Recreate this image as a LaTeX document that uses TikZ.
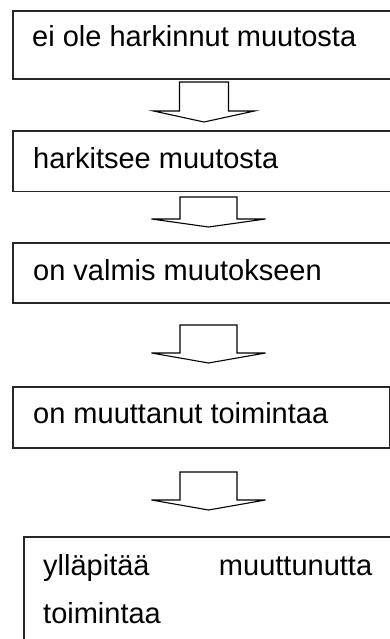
\documentclass[tikz,border=0pt]{standalone}
\usepackage{fontspec}
\setmainfont{Liberation Sans}
\begin{document}
\begin{tikzpicture}[x=1pt,y=-1pt,
  boxline/.style={draw=black!85, line width=1.6pt, inner sep=0pt, anchor=north west},
  txt/.style={inner sep=0pt, anchor=base west, font=\fontsize{29}{48}\selectfont},
  arrowline/.style={draw=black, line width=1.1pt, line join=miter}]
\useasboundingbox (0,0) rectangle (390,639);
\clip (0,0) rectangle (390,639);
\newcommand\bkarrow[6]{\draw[arrowline] (#1-#5,#2) -- (#1+#5,#2) -- (#1+#5,#3) -- (#1+#6,#3) -- (#1,#4) -- (#1-#6,#3) -- (#1-#5,#3) -- cycle;}
% boxes
\node[boxline, minimum width=390pt, minimum height=68pt] (b1) at (12,10) {};
\node[txt] (t1) at (32,47) {ei ole harkinnut muutosta};
\node[boxline, minimum width=390pt, minimum height=60pt] (b2) at (12,130.5) {};
\node[txt] (t2) at (33,168) {harkitsee muutosta};
\node[boxline, minimum width=390pt, minimum height=60pt] (b3) at (12,242) {};
\node[txt] (t3) at (33,280) {on valmis muutokseen};
\node[boxline, minimum width=377pt, minimum height=61pt] (b4) at (12,386) {};
\node[txt] (t4) at (33,423) {on muuttanut toimintaa};
\node[boxline, minimum width=390pt, minimum height=120pt] (b5) at (23,536) {};
\node[txt, text width=329pt, align=justify] (t5) at (43,575) {ylläpitää\hfill muuttunutta\\toimintaa};
% block arrows
\bkarrow{204}{82}{111}{122}{24.5}{50.5}
\bkarrow{208.5}{197}{219}{227}{28.5}{57}
\bkarrow{208.5}{325}{353}{363}{28.5}{57}
\bkarrow{208.5}{472}{500}{510}{28.5}{57}
\end{tikzpicture}
\end{document}
